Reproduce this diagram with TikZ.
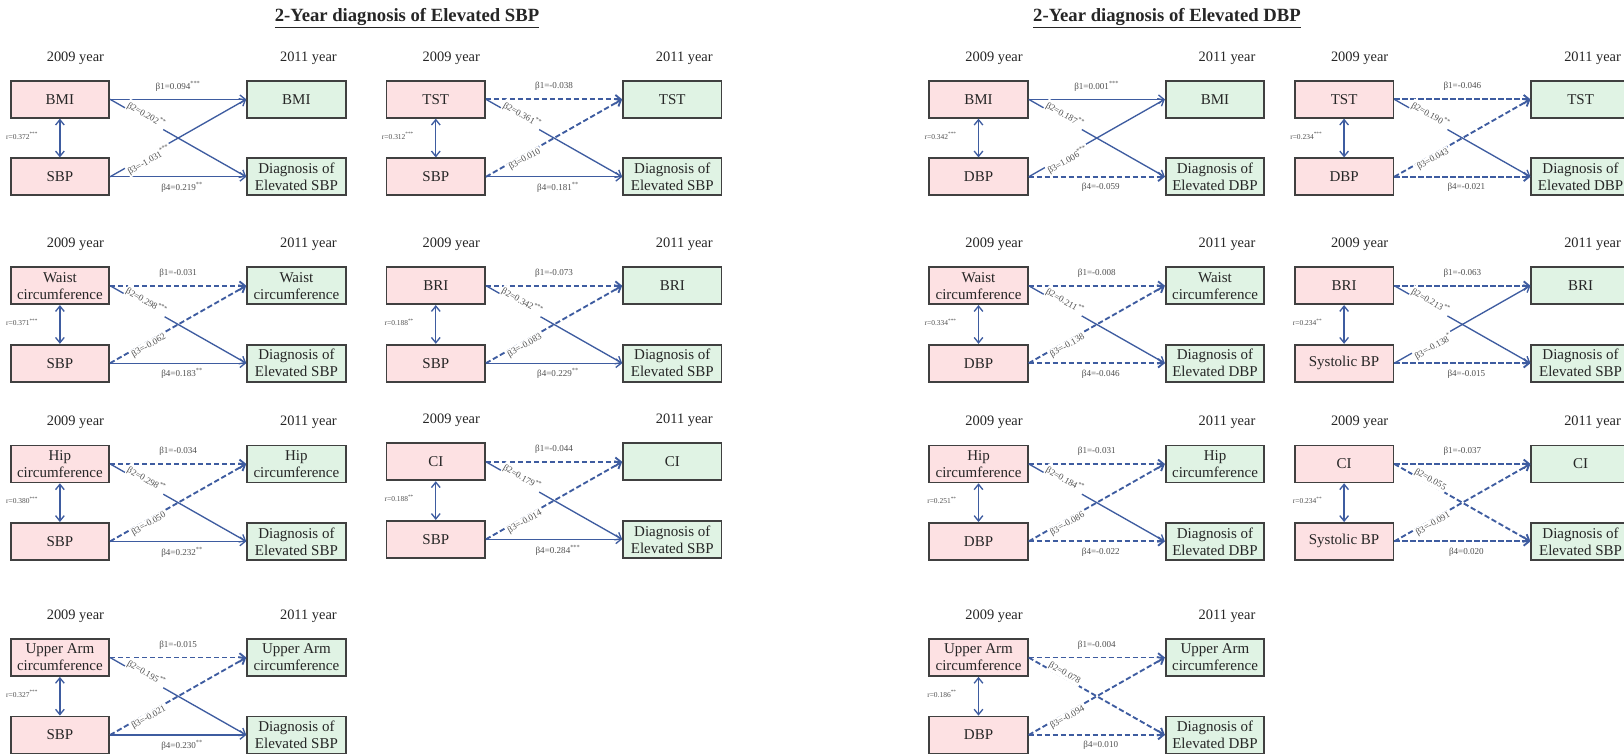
\documentclass[tikz,border=0pt]{standalone}
\usepackage{fontspec}
\setmainfont{Liberation Serif}
\usetikzlibrary{arrows.meta}
\usepackage{xcolor}

\definecolor{pinkbox}{RGB}{253,225,227}
\definecolor{greenbox}{RGB}{224,243,228}
\definecolor{edgegray}{RGB}{64,64,64}
\definecolor{pathblue}{RGB}{62,92,160}
\definecolor{labgray}{RGB}{80,80,80}

% one panel: #1 name, #2 x, #3 y, #4-#7 box texts, #8 r
\newcommand{\panel}[8]{%
  \begin{scope}[shift={(#2,#3)}]
    \node[yearlab] (#1y1) at (65,-23) {2009 year};
    \node[yearlab] (#1y2) at (298,-23) {2011 year};
    \node[oldbox] (#1tl) at (49.5,18.5) {#4};
    \node[oldbox] (#1bl) at (49.5,96) {#5};
    \node[newbox] (#1tr) at (286,18.5) {#6};
    \node[newbox] (#1br) at (286,96) {#7};
    \node[rlab] (#1r) at (29,55) {#8};
    \draw[corr] (#1tl) -- (#1bl);
  \end{scope}}

% the four paths: style and label of b1, b2, b3, b4
\newcommand{\paths}[9]{%
  \draw[#2] (#1tl.east) -- node[blab, midway, yshift=9.5pt] {#3} (#1tr.west);
  \draw[#8] (#1bl.east) -- node[blab, midway, xshift=3pt, yshift=-8pt] {#9} (#1br.west);
  \draw[#4] (#1tl.east) -- node[blab, sloped, pos=0.25, above=-1.7pt, fill=white] {#5} (#1br.west);
  \draw[#6] (#1bl.east) -- node[blab, sloped, pos=0.27, below=-1.5pt, fill=white] {#7} (#1tr.west);}

\newcommand{\st}[1]{\textsuperscript{#1}}

\begin{document}
\begin{tikzpicture}[x=0.75pt, y=-0.75pt,
    box/.style={draw=edgegray, line width=1.3pt, minimum width=73.9pt,
      minimum height=27.75pt, inner sep=0pt, align=center,
      font=\fontsize{11.25}{12.75}\selectfont, text=black!85},
    oldbox/.style={box, fill=pinkbox},
    newbox/.style={box, fill=greenbox},
    yearlab/.style={font=\fontsize{10.8}{12}\selectfont, text=black!85},
    blab/.style={font=\fontsize{6.8}{7.5}\selectfont, text=labgray, inner sep=0.8pt},
    rlab/.style={blab, anchor=east, font=\fontsize{5.6}{6.5}\selectfont},
    title/.style={font=\bfseries\fontsize{14}{16}\selectfont, text=black!85},
    sig/.style={draw=pathblue, line width=1pt,
      -{Straight Barb[length=4pt,width=6.5pt]}},
    ns/.style={sig, line width=1.4pt, dash pattern=on 4pt off 2pt},
    corr/.style={draw=pathblue, line width=1pt,
      {Straight Barb[length=4pt,width=6.5pt]}-{Straight Barb[length=4pt,width=6.5pt]}}]

  \useasboundingbox[fill=white] (0,0) rectangle (1624,755);

  % titles
  \node[title] (sbptitle) at (407,18) {\underline{2-Year diagnosis of Elevated SBP}};
  \node[title] (dbptitle) at (1167,18) {\underline{2-Year diagnosis of Elevated DBP}};

  % Elevated SBP
  \panel{a}{10.4}{80.8}{BMI}{SBP}{BMI}{Diagnosis of\\Elevated SBP}{r=0.372\st{***}}
  \paths{a}{sig}{β1=0.094\st{***}}{sig}{β2=0.202\st{**}}{sig}{β3=-1.031\st{***}}{sig}{β4=0.219\st{**}}

  \panel{b}{386.3}{80.8}{TST}{SBP}{TST}{Diagnosis of\\Elevated SBP}{r=0.312\st{***}}
  \paths{b}{ns}{β1=-0.038}{sig}{β2=0.361\st{**}}{ns}{β3=0.010}{sig}{β4=0.181\st{**}}

  \panel{c}{10.4}{267.2}{Waist\\circumference}{SBP}{Waist\\circumference}{Diagnosis of\\Elevated SBP}{r=0.371\st{***}}
  \paths{c}{ns}{β1=-0.031}{sig}{β2=0.298\st{***}}{ns}{β3=-0.062}{sig}{β4=0.183\st{**}}

  \panel{d}{386.3}{267.2}{BRI}{SBP}{BRI}{Diagnosis of\\Elevated SBP}{r=0.188\st{**}}
  \paths{d}{ns}{β1=-0.073}{sig}{β2=0.342\st{***}}{ns}{β3=-0.083}{sig}{β4=0.229\st{**}}

  \panel{e}{10.4}{445.4}{Hip\\circumference}{SBP}{Hip\\circumference}{Diagnosis of\\Elevated SBP}{r=0.380\st{***}}
  \paths{e}{ns}{β1=-0.034}{sig}{β2=0.298\st{**}}{ns}{β3=-0.050}{sig}{β4=0.232\st{**}}

  \panel{f}{386.3}{443.3}{CI}{SBP}{CI}{Diagnosis of\\Elevated SBP}{r=0.188\st{**}}
  \paths{f}{ns}{β1=-0.044}{sig}{β2=0.179\st{**}}{ns}{β3=-0.014}{sig}{β4=0.284\st{***}}

  \panel{g}{10.4}{639}{Upper Arm\\circumference}{SBP}{Upper Arm\\circumference}{Diagnosis of\\Elevated SBP}{r=0.327\st{***}}
  \paths{g}{ns}{β1=-0.015}{sig}{β2=0.195\st{**}}{ns}{β3=-0.021}{sig}{β4=0.230\st{**}}

  % Elevated DBP
  \panel{h}{929}{80.8}{BMI}{DBP}{BMI}{Diagnosis of\\Elevated DBP}{r=0.342\st{***}}
  \paths{h}{sig}{β1=0.001\st{***}}{sig}{β2=0.187\st{**}}{sig}{β3=1.006\st{***}}{ns}{β4=-0.059}

  \panel{i}{1294.6}{80.8}{TST}{DBP}{TST}{Diagnosis of\\Elevated DBP}{r=0.234\st{***}}
  \paths{i}{ns}{β1=-0.046}{sig}{β2=0.190\st{**}}{ns}{β3=0.043}{ns}{β4=-0.021}

  \panel{j}{929}{267.2}{Waist\\circumference}{DBP}{Waist\\circumference}{Diagnosis of\\Elevated DBP}{r=0.334\st{***}}
  \paths{j}{ns}{β1=-0.008}{sig}{β2=0.211\st{**}}{ns}{β3=-0.138}{ns}{β4=-0.046}

  \panel{k}{1294.6}{267.2}{BRI}{Systolic BP}{BRI}{Diagnosis of\\Elevated SBP}{r=0.234\st{**}}
  \paths{k}{ns}{β1=-0.063}{sig}{β2=0.213\st{**}}{sig}{β3=-0.138\st{*}}{ns}{β4=-0.015}

  \panel{l}{929}{445.4}{Hip\\circumference}{DBP}{Hip\\circumference}{Diagnosis of\\Elevated DBP}{r=0.251\st{**}}
  \paths{l}{ns}{β1=-0.031}{sig}{β2=0.184\st{**}}{ns}{β3=-0.086}{ns}{β4=-0.022}

  \panel{m}{1294.6}{445.4}{CI}{Systolic BP}{CI}{Diagnosis of\\Elevated SBP}{r=0.234\st{**}}
  \paths{m}{ns}{β1=-0.037}{ns}{β2=0.055}{ns}{β3=-0.091}{ns}{β4=0.020}

  \panel{n}{929}{639}{Upper Arm\\circumference}{DBP}{Upper Arm\\circumference}{Diagnosis of\\Elevated DBP}{r=0.186\st{**}}
  \paths{n}{ns}{β1=-0.004}{ns}{β2=0.078}{ns}{β3=-0.094}{ns}{β4=0.010}
\end{tikzpicture}
\end{document}
